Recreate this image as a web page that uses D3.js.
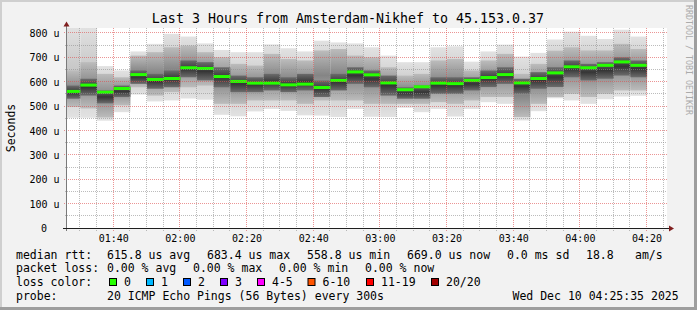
<!DOCTYPE html>
<html>
<head>
<meta charset="utf-8">
<script src="https://cdn.jsdelivr.net/npm/d3@7"></script>
<style>
html, body { margin: 0; padding: 0; background: #f2f2f2; }
svg { display: block; font-family: "DejaVu Sans Mono", monospace; }
</style>
</head>
<body>
<script>
// bar end times (5 minute steps), values in microseconds
var slots = ["01:30","01:35","01:40","01:45","01:50","01:55","02:00","02:05","02:10","02:15",
             "02:20","02:25","02:30","02:35","02:40","02:45","02:50","02:55","03:00","03:05",
             "03:10","03:15","03:20","03:25","03:30","03:35","03:40","03:45","03:50","03:55",
             "04:00","04:05","04:10","04:15","04:20"];
var median  = [562,588,559,574,631,611,615,659,656,623,603,596,596,589,592,578,607,642,630,597,
               569,581,596,594,607,619,631,597,615,638,663,659,669,683,669];
var pingMin = [454,454,442,477,549,521,525,533,528,466,460,480,490,482,464,463,457,490,458,457,
               495,477,490,459,490,518,511,443,481,534,525,511,530,541,544];
var pingLo  = [498,492,455,505,579,545,559,579,586,511,511,525,525,525,511,525,525,525,511,511,
               511,511,518,511,525,539,539,457,511,539,552,539,552,566,566];
var coreLo  = [532,545,513,539,593,573,579,620,607,579,559,559,566,559,566,539,566,593,579,545,
               532,532,552,552,566,580,593,552,573,580,620,607,614,627,620];
var coreHi  = [586,614,566,586,648,634,648,689,682,661,627,620,634,620,634,607,634,661,648,627,
               579,586,620,620,620,648,661,614,641,661,689,675,682,702,689];
var pingHi  = [648,682,634,620,709,723,743,750,723,702,675,668,716,695,689,730,736,709,702,661,
               627,634,689,695,648,689,716,634,675,729,743,730,730,757,736];
var pingMax = [830,830,666,648,726,757,798,787,759,732,723,723,755,739,726,770,763,759,743,709,
               682,682,743,747,684,726,754,705,720,775,807,790,777,815,787];
var loss    = [0,0,0,0,0,0,0,0,0,0,0,0,0,0,0,0,0,0,0,0,0,0,0,0,0,0,0,0,0,0,0,0,0,0,0];

var yTicks = [0,100,200,300,400,500,600,700,800];
var xTicks = ["01:40","02:00","02:20","02:40","03:00","03:20","03:40","04:00","04:20"];

var title = "Last 3 Hours from Amsterdam-Nikhef to 45.153.0.37";
var rttStats  = ["615.8 us avg","683.4 us max","558.8 us min","669.0 us now","0.0 ms sd","18.8","am/s"];
var lossStats = ["0.00 % avg","0.00 % max","0.00 % min","0.00 % now"];
var lossBins   = ["0","1","2","3","4-5","6-10","11-19","20/20"];
var lossColors = ["#26ff00","#00b8ff","#0059ff","#7e00ff","#ff00ff","#ff5500","#ff0000","#a10000"];
var probeText = "20 ICMP Echo Pings (56 Bytes) every 300s";
var stamp = "Wed Dec 10 04:25:35 2025";

var W = 697, H = 310;
var parse = d3.timeParse("%Y-%m-%d %H:%M:%S");
var tStart = parse("2025-12-10 01:25:50"), tEnd = parse("2025-12-10 04:25:50");
var at = function(s){ return parse("2025-12-10 " + s + ":00"); };

var x = d3.scaleTime().domain([tStart, tEnd]).range([66.5, 666.5]);
var y = d3.scaleLinear().domain([0, 820]).range([228.5, 28.5]);
var lossColor = d3.scaleOrdinal().domain([0,1,2,3,4,6,11,20]).range(lossColors);

var svg = d3.select("body").append("svg").attr("width", W).attr("height", H);
var defs = svg.append("defs");

function grad(id, edge, mid) {
  var g = defs.append("linearGradient").attr("id", id).attr("x1",0).attr("y1",0).attr("x2",0).attr("y2",1);
  g.append("stop").attr("offset","0%").attr("stop-color", edge);
  g.append("stop").attr("offset","50%").attr("stop-color", mid);
  g.append("stop").attr("offset","100%").attr("stop-color", edge);
}
grad("gOuter", "#e2e2e2", "#c6c6c6");
grad("gMid", "#bcbcbc", "#858585");
grad("gCore", "#6c6c6c", "#353535");

defs.append("clipPath").attr("id","plotClip").append("rect")
  .attr("x", 67).attr("y", 28).attr("width", 600).attr("height", 200.5);

// frame
svg.append("rect").attr("width", W).attr("height", H).attr("fill", "#f2f2f2");
svg.append("rect").attr("x",0).attr("y",0).attr("width",W).attr("height",2).attr("fill","#cfcfcf");
svg.append("rect").attr("x",0).attr("y",0).attr("width",2).attr("height",H).attr("fill","#cfcfcf");
svg.append("rect").attr("x",0).attr("y",H-3).attr("width",W).attr("height",3).attr("fill","#9e9e9e");
svg.append("rect").attr("x",W-3).attr("y",0).attr("width",3).attr("height",H).attr("fill","#9e9e9e");

// canvas
svg.append("rect").attr("x", 67).attr("y", 28).attr("width", 600).attr("height", 200.5).attr("fill", "#fff");

// smoke
var bars = slots.map(function(s, i) {
  var end = at(s), begin = d3.timeMinute.offset(end, -5);
  if (begin < tStart) begin = tStart;
  return { x0: x(begin), x1: x(end), med: median[i], mn: pingMin[i], lo: pingLo[i],
           cl: coreLo[i], ch: coreHi[i], hi: pingHi[i], mx: pingMax[i], loss: loss[i] };
});

var smoke = svg.append("g").attr("clip-path", "url(#plotClip)");
function band(lowKey, highKey, fill) {
  smoke.selectAll(null).data(bars).enter().append("rect")
    .attr("x", function(d){ return d.x0; })
    .attr("width", function(d){ return d.x1 - d.x0; })
    .attr("y", function(d){ return y(d[highKey]); })
    .attr("height", function(d){ return y(d[lowKey]) - y(d[highKey]); })
    .attr("fill", fill);
}
band("mn", "mx", "url(#gOuter)");
band("lo", "hi", "url(#gMid)");
band("cl", "ch", "url(#gCore)");

smoke.selectAll(null).data(bars).enter().append("rect")
  .attr("x", function(d){ return d.x0; })
  .attr("width", function(d){ return d.x1 - d.x0; })
  .attr("y", function(d){ return y(d.med) - 1.5; })
  .attr("height", 3)
  .attr("fill", function(d){ return lossColor(d.loss); });

// grid (drawn over the smoke, like rrdtool)
var grid = svg.append("g").attr("shape-rendering", "crispEdges");
var minorX = d3.timeMinute.every(5).range(tStart, tEnd);
grid.selectAll(null).data(minorX.filter(function(t){ return t.getMinutes() % 20 !== 0; }))
  .enter().append("line")
  .attr("x1", function(d){ return Math.round(x(d)) - 0.5; })
  .attr("x2", function(d){ return Math.round(x(d)) - 0.5; })
  .attr("y1", 28).attr("y2", 230.5)
  .attr("stroke", "rgba(143,143,143,0.6)").attr("stroke-dasharray", "1,1");
var minorY = d3.range(50, 820, 100);
grid.selectAll(null).data(minorY).enter().append("line")
  .attr("x1", 65).attr("x2", 667)
  .attr("y1", function(d){ return Math.round(y(d)) - 0.5; })
  .attr("y2", function(d){ return Math.round(y(d)) - 0.5; })
  .attr("stroke", "rgba(143,143,143,0.6)").attr("stroke-dasharray", "1,1");
grid.selectAll(null).data(xTicks).enter().append("line")
  .attr("x1", function(d){ return Math.round(x(at(d))) - 0.5; })
  .attr("x2", function(d){ return Math.round(x(at(d))) - 0.5; })
  .attr("y1", 28).attr("y2", 231)
  .attr("stroke", "rgba(222,79,79,0.6)").attr("stroke-dasharray", "1,1");
grid.selectAll(null).data(yTicks.slice(1)).enter().append("line")
  .attr("x1", 64).attr("x2", 667)
  .attr("y1", function(d){ return Math.round(y(d)) - 0.5; })
  .attr("y2", function(d){ return Math.round(y(d)) - 0.5; })
  .attr("stroke", "rgba(222,79,79,0.6)").attr("stroke-dasharray", "1,1");

// axes
svg.append("line").attr("x1", 66.5).attr("x2", 66.5).attr("y1", 25).attr("y2", 231)
  .attr("stroke", "#7a7a7a");
svg.append("line").attr("x1", 63).attr("x2", 670).attr("y1", 228.5).attr("y2", 228.5)
  .attr("stroke", "#1f1f1f");
svg.append("path").attr("d", "M63.5,26.5 L66.5,21.5 L69.5,26.5 Z").attr("fill", "#801f1f");
svg.append("path").attr("d", "M669,225.5 L674,228.5 L669,231.5 Z").attr("fill", "#801f1f");

// tick labels
svg.append("g").selectAll("text").data(yTicks).enter().append("text")
  .attr("x", function(d){ return d === 0 ? 47 : 59.5; })
  .attr("y", function(d){ return y(d) + 3.6; })
  .attr("text-anchor", "end").attr("font-size", "10px").attr("fill", "#000")
  .text(function(d){ return d === 0 ? "0" : d + " u"; });

svg.append("g").selectAll("text").data(xTicks).enter().append("text")
  .attr("x", function(d){ return x(at(d)); })
  .attr("y", 242)
  .attr("text-anchor", "middle").attr("font-size", "10px").attr("fill", "#000")
  .text(function(d){ return d; });

// title, axis title, watermark
svg.append("text").attr("x", 348).attr("y", 23.3).attr("text-anchor", "middle")
  .attr("font-size", "13.3px").attr("fill", "#000").text(title);
svg.append("text").attr("transform", "translate(15,128) rotate(-90)")
  .attr("text-anchor", "middle").attr("font-size", "11.5px").attr("fill", "#000").text("Seconds");
svg.append("text").attr("transform", "translate(685.5,5) rotate(90)")
  .attr("font-size", "8.3px").attr("fill", "#ababab").text("RRDTOOL / TOBI OETIKER");

// legend
var leg = svg.append("g").attr("font-size", "11.5px").attr("fill", "#000")
  .style("white-space", "pre");
var rows = [258.8, 272.4, 286, 299.6];
leg.append("text").attr("x", 16).attr("y", rows[0]).text("median rtt:");
leg.append("text").attr("x", 16).attr("y", rows[1]).text("packet loss:");
leg.append("text").attr("x", 16).attr("y", rows[2]).text("loss color:");
leg.append("text").attr("x", 16).attr("y", rows[3]).text("probe:");

var rttX = [107, 207, 307, 407, 507, 586, 635];
leg.selectAll(null).data(rttStats).enter().append("text")
  .attr("x", function(d, i){ return rttX[i]; }).attr("y", rows[0]).text(function(d){ return d; });
var lossX = [107, 193, 279, 365];
leg.selectAll(null).data(lossStats).enter().append("text")
  .attr("x", function(d, i){ return lossX[i]; }).attr("y", rows[1]).text(function(d){ return d; });

var boxX = [109, 146, 183, 220, 257, 307.5, 366, 431];
leg.selectAll(null).data(lossBins).enter().append("rect")
  .attr("x", function(d, i){ return boxX[i] + 0.5; }).attr("y", 278.5)
  .attr("width", 7).attr("height", 7)
  .attr("fill", function(d, i){ return lossColors[i]; })
  .attr("stroke", "#000").attr("stroke-width", 1);
leg.selectAll(null).data(lossBins).enter().append("text")
  .attr("x", function(d, i){ return boxX[i] + 15; }).attr("y", rows[2]).text(function(d){ return d; });

leg.append("text").attr("x", 107).attr("y", rows[3]).text(probeText);
leg.append("text").attr("x", 512.5).attr("y", rows[3]).text(stamp);
</script>
</body>
</html>
